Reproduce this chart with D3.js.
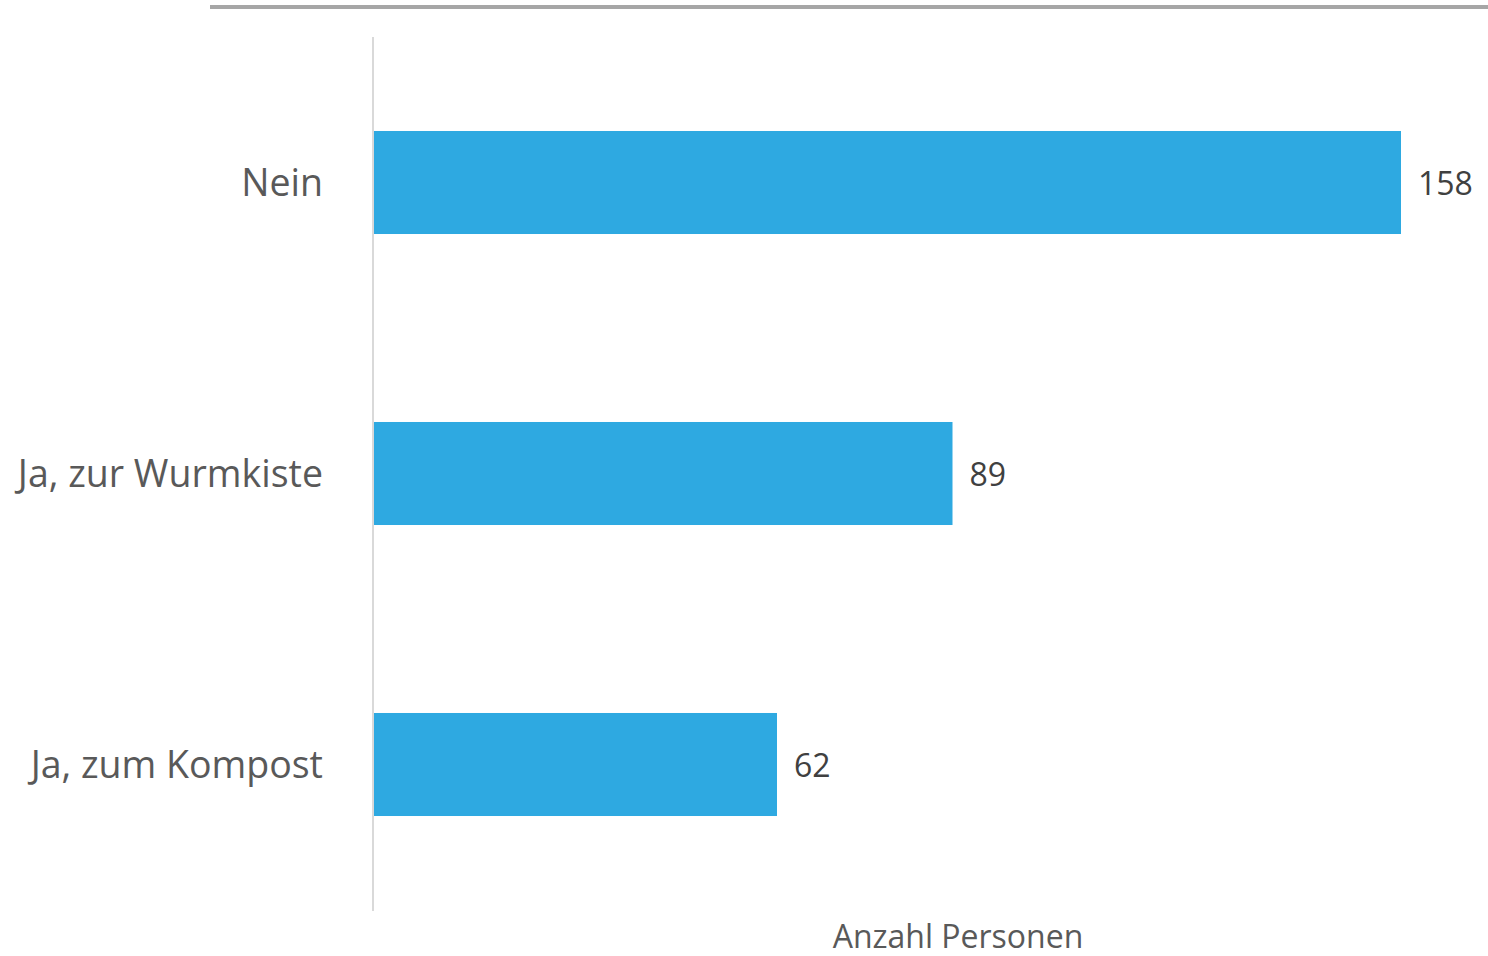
<!DOCTYPE html>
<html>
<head>
<meta charset="utf-8">
<script src="https://cdn.jsdelivr.net/npm/d3@7"></script>
<style>
  body { margin: 0; background: #fff; }
  svg text { font-family: "Open Sans", "Noto Sans", sans-serif; }
</style>
</head>
<body>
<div id="chart"></div>
<script>
var categories = ["Nein", "Ja, zur Wurmkiste", "Ja, zum Kompost"];
var values = [158, 89, 62];
var axisTitle = "Anzahl Personen";

var w = 1488;
var h = 956;

var xScale = d3.scaleLinear()
    .domain([0, 158])
    .range([374, 1401]);

var yScale = d3.scaleBand()
    .domain(categories)
    .range([37, 910])
    .paddingInner(0.646)
    .paddingOuter(0.323);

var svg = d3.select("#chart")
    .append("svg")
    .attr("width", w)
    .attr("height", h);

// grey rule at the top
svg.append("line")
    .attr("x1", 210).attr("x2", w)
    .attr("y1", 7).attr("y2", 7)
    .attr("stroke", "#a6a6a6")
    .attr("stroke-width", 4);

var data = categories.map(function(c, i) { return { cat: c, val: values[i] }; });

svg.selectAll("rect.bar")
    .data(data)
    .enter()
    .append("rect")
    .attr("class", "bar")
    .attr("x", xScale(0))
    .attr("y", function(d) { return yScale(d.cat); })
    .attr("width", function(d) { return xScale(d.val) - xScale(0); })
    .attr("height", yScale.bandwidth())
    .attr("fill", "#2ea9e1");

// category axis
var yAxis = d3.axisLeft(yScale).tickSize(0).tickPadding(50);
var gy = svg.append("g")
    .attr("transform", "translate(373,0)")
    .call(yAxis);
gy.select(".domain").remove();
gy.append("line")
    .attr("x1", 0).attr("x2", 0)
    .attr("y1", 37).attr("y2", 911)
    .attr("stroke", "#d9d9d9")
    .attr("stroke-width", 2);
gy.selectAll(".tick text")
    .attr("fill", "#595959")
    .attr("dy", "0.36em")
    .style("font-size", "37.5px")
    .style("font-family", "'Open Sans', sans-serif");

// value labels
svg.selectAll("text.val")
    .data(data)
    .enter()
    .append("text")
    .attr("class", "val")
    .attr("x", function(d) { return xScale(d.val) + 17; })
    .attr("y", function(d) { return yScale(d.cat) + yScale.bandwidth() / 2; })
    .attr("dy", "0.4em")
    .attr("fill", "#404040")
    .style("font-size", "32px")
    .text(function(d) { return d.val; });

svg.append("text")
    .attr("x", 958)
    .attr("y", 948)
    .attr("text-anchor", "middle")
    .attr("fill", "#595959")
    .style("font-size", "32px")
    .text(axisTitle);
</script>
</body>
</html>
